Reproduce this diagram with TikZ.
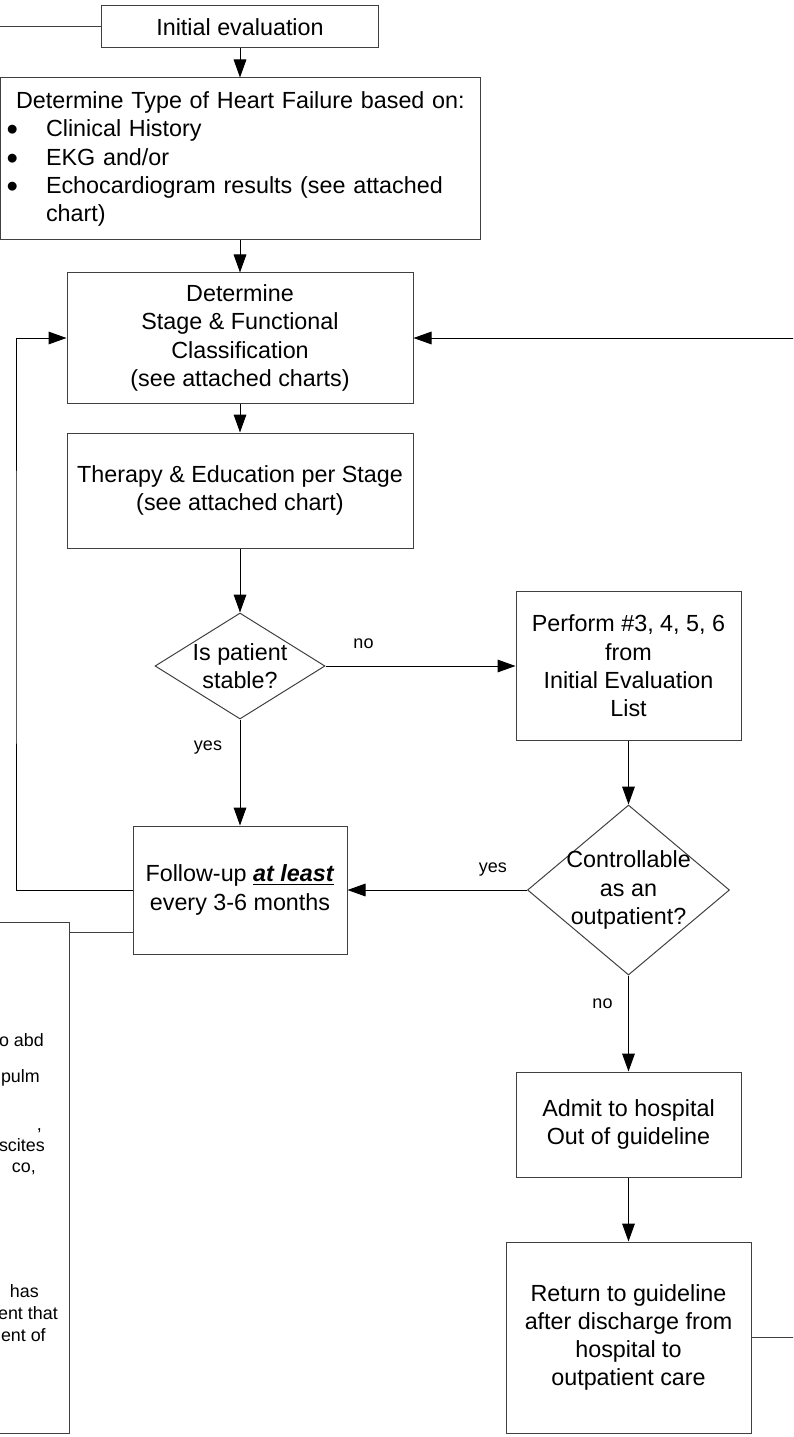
\documentclass[tikz,border=0pt]{standalone}
\usepackage{fontspec}
\setmainfont{Liberation Sans}
\usetikzlibrary{shapes.geometric,arrows.meta,calc}

\newcommand{\bigdot}{\smash{\raisebox{-3pt}{\scalebox{1.4}{\textbullet}}}}

\begin{document}
\begin{tikzpicture}[
  x=0.75pt, y=-0.75pt,
  font=\fontsize{17.5pt}{21.2pt}\selectfont,
  >={Triangle[length=13.5pt, width=9.5pt]},
  box/.style={draw=black!75, line width=0.75pt, align=center, inner sep=2pt},
  dec/.style={diamond, draw=black!75, line width=0.75pt, inner sep=0pt},
  dectext/.style={align=center, inner sep=0pt},
  flow/.style={->, line width=0.75pt, draw=black},
  link/.style={line width=0.75pt, draw=black!75},
  lbl/.style={font=\fontsize{13.5pt}{16pt}\selectfont},
  frag/.style={font=\fontsize{13.4pt}{16pt}\selectfont, anchor=base east, inner sep=0pt},
]
\useasboundingbox (0,0) rectangle (793,1437);
\clip (0,0) rectangle (793,1437);

% ---- main column ----
\node[box, minimum width=207.75pt, minimum height=31.5pt] (init) at (240,27) {Initial evaluation};
\node[box, align=left, text width=348pt, inner xsep=6pt, minimum height=121.5pt] (type) at (240,159)
  {\hspace*{6pt}Determine Type of Heart Failure based on:\\
   \makebox[28.5pt][l]{\hspace*{-1pt}\bigdot}Clinical History\\
   \makebox[28.5pt][l]{\hspace*{-1pt}\bigdot}EKG and/or\\
   \makebox[28.5pt][l]{\hspace*{-1pt}\bigdot}Echocardiogram results (see attached\\
   \hspace*{28.5pt}chart)};
\node[box, minimum width=259.5pt, minimum height=97.5pt] (stage) at (240,338)
  {Determine\\Stage \& Functional\\Classification\\(see attached charts)};
\node[box, minimum width=259.5pt, minimum height=86.25pt] (therapy) at (240,490.5)
  {Therapy \& Education per Stage\\(see attached chart)};
\node[dec, minimum width=127.5pt, minimum height=79.5pt,
      label={[dectext]center:Is patient\\stable?}] (stable) at (240,666) {};
\node[box, minimum width=160.5pt, minimum height=96pt] (follow) at (240,890)
  {Follow-up \underline{\textbf{\textit{at least}}}\\every 3-6 months};

% ---- right column ----
\node[box, minimum width=168.75pt, minimum height=111.75pt] (perform) at (628.5,666)
  {Perform \#3, 4, 5, 6\\from\\Initial Evaluation\\List};
\node[dec, minimum width=151.5pt, minimum height=127.5pt,
      label={[dectext]center:Controllable\\as an\\outpatient?}] (ctrl) at (628.5,890) {};
\node[box, minimum width=168.75pt, minimum height=78.75pt] (admit) at (628.5,1124.5)
  {Admit to hospital\\Out of guideline};
\node[box, minimum width=183.75pt, minimum height=143.25pt] (ret) at (628.5,1337.5)
  {Return to guideline\\after discharge from\\hospital to\\outpatient care};

% ---- notes box, cut off at the left edge ----
\node[box, minimum width=74.25pt, minimum height=383.25pt] (notes) at (19.5,1177.5) {};
\node[frag] (n1) at (44,1046.5) {o abd};
\node[frag] (n2) at (40,1082.5) {pulm};
\node[frag] (n3) at (42,1130.5) {,};
\node[frag] (n4) at (45,1151.5) {scites};
\node[frag] (n5) at (36,1172.5) {co,};
\node[frag] (n6) at (39,1297.5) {has};
\node[frag] (n7) at (58,1319.5) {ent that};
\node[frag] (n8) at (46,1341.5) {ent of};

% ---- loose ends off the page ----
\coordinate (offleft) at (-10,27);
\coordinate (offright) at (810,338);
\coordinate (offret) at (810,1337.5);
\coordinate (loopx) at (16,600);

% ---- flows ----
\draw[link] (init.west) -- (offleft);
\draw[flow] (init) -- (type);
\draw[flow] (type.south) -- (type.south |- stage.north);
\draw[flow] (stage) -- (therapy);
\draw[flow] (therapy) -- (stable);
\draw[flow] (stable.east) -- node[lbl, pos=0.2, yshift=16.5pt]{no} (stable.east -| perform.west);
\draw[flow] (stable.south) -- node[lbl, pos=0.26, xshift=-24pt]{yes} (follow.north);
\draw[flow] (perform) -- (ctrl);
\draw[flow] (ctrl.west) -- node[lbl, pos=0.19, yshift=15pt]{yes} (follow.east);
\draw[flow] (ctrl.south) -- node[lbl, pos=0.29, xshift=-19.5pt]{no} (admit.north);
\draw[flow] (admit) -- (ret);
\draw[link] (ret.east) -- (offret);
\draw[flow] (offright) -- (stage.east);
\draw[flow] (follow.west) -| (loopx) |- (stage.west);
\draw[link] (notes.north east) ++(0,11) coordinate (nf) -- (nf -| follow.west);
\end{tikzpicture}
\end{document}
